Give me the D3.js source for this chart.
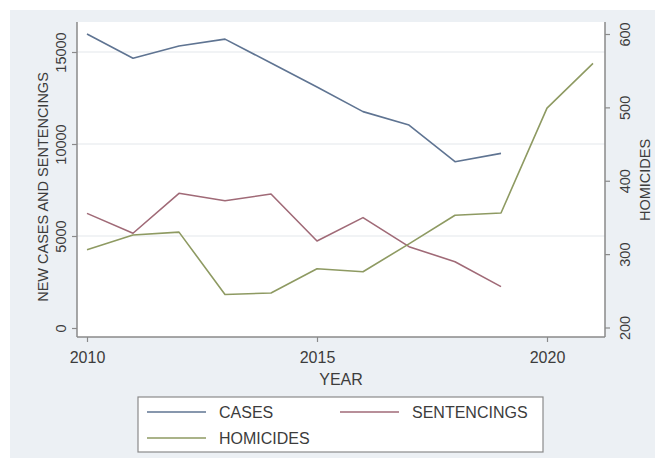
<!DOCTYPE html>
<html><head><meta charset="utf-8">
<script src="https://cdn.jsdelivr.net/npm/d3@7"></script>
<style>
html,body{margin:0;padding:0;background:#fff;}
svg{display:block;font-family:"Liberation Sans",Arial,sans-serif;}
</style></head>
<body>
<svg id="chart" width="655" height="458"></svg>
<script>
const years = [2010,2011,2012,2013,2014,2015,2016,2017,2018,2019];
const homicideYears = [2010,2011,2012,2013,2014,2015,2016,2017,2018,2019,2020,2021];
const cases = [15980,14660,15330,15700,14400,13100,11760,11030,9040,9490];
const sentencings = [6230,5150,7320,6920,7280,4730,6000,4420,3600,2250];
const homicides = [306,326,330,245,247,280,276,314,353,356,499,560];
const xTicks = [2010,2015,2020];
const leftTicks = [0,5000,10000,15000];
const rightTicks = [200,300,400,500,600];
const seriesNames = ["CASES","SENTENCINGS","HOMICIDES"];
const colors = {CASES:"#5f7492", SENTENCINGS:"#a06a77", HOMICIDES:"#8e9a62"};

const svg = d3.select("#chart");
const textColor = "#3c3c3c";
const axisColor = "#8a8a8a";

// background
svg.append("rect").attr("x",10).attr("y",10).attr("width",645).attr("height",448).attr("fill","#ecf0f4");
const plot = {l:77, r:605, t:22, b:337};
svg.append("rect").attr("x",plot.l).attr("y",plot.t).attr("width",plot.r-plot.l).attr("height",plot.b-plot.t).attr("fill","#ffffff");

const x = d3.scaleLinear().domain([2010,2020]).range([87,547]);
const yL = d3.scaleLinear().domain([0,15000]).range([328,52]);
const yR = d3.scaleLinear().domain([200,600]).range([327.5,34]);

// grid
svg.append("g").selectAll("line").data(leftTicks.filter(d=>d>0)).join("line")
  .attr("x1",plot.l).attr("x2",plot.r).attr("y1",d=>yL(d)).attr("y2",d=>yL(d))
  .attr("stroke","#eceff2").attr("stroke-width",1.5);

// axes
const gL = svg.append("g").attr("transform",`translate(${plot.l},0)`)
  .call(d3.axisLeft(yL).tickValues(leftTicks).tickSize(5).tickFormat(d3.format("d")));
const gR = svg.append("g").attr("transform",`translate(${plot.r},0)`)
  .call(d3.axisRight(yR).tickValues(rightTicks).tickSize(5).tickFormat(d3.format("d")));
const gB = svg.append("g").attr("transform",`translate(0,${plot.b})`)
  .call(d3.axisBottom(x).tickValues(xTicks).tickSize(5).tickFormat(d3.format("d")));
[gL,gR,gB].forEach(g=>{
  g.select(".domain").remove();
  g.selectAll(".tick line").attr("stroke",axisColor).attr("stroke-width",1.2);
  g.selectAll(".tick text").attr("fill",textColor).attr("font-family","Liberation Sans, Arial, sans-serif");
});
// axis lines
svg.append("line").attr("x1",plot.l).attr("x2",plot.l).attr("y1",plot.t).attr("y2",plot.b).attr("stroke",axisColor).attr("stroke-width",1.5);
svg.append("line").attr("x1",plot.r).attr("x2",plot.r).attr("y1",plot.t).attr("y2",plot.b).attr("stroke",axisColor).attr("stroke-width",1.5);
svg.append("line").attr("x1",plot.l).attr("x2",plot.r).attr("y1",plot.b).attr("y2",plot.b).attr("stroke",axisColor).attr("stroke-width",1.5);

// rotated tick labels
gL.selectAll(".tick text").attr("x",null).attr("dy",null)
  .attr("transform","translate(-11,0) rotate(-90)").attr("text-anchor","middle").attr("font-size",14.5);
gR.selectAll(".tick text").attr("x",null).attr("dy",null)
  .attr("transform","translate(25,0) rotate(-90)").attr("text-anchor","middle").attr("font-size",14.5);
gB.selectAll(".tick text").attr("y",null).attr("dy",null)
  .attr("transform","translate(0,26)").attr("font-size",16);

// axis titles
svg.append("text").attr("transform","translate(48,187) rotate(-90)").attr("text-anchor","middle")
  .attr("font-size",14.5).attr("fill",textColor).text("NEW CASES AND SENTENCINGS");
svg.append("text").attr("transform","translate(650,180) rotate(-90)").attr("text-anchor","middle")
  .attr("font-size",14.5).attr("fill",textColor).text("HOMICIDES");
svg.append("text").attr("x",341).attr("y",385).attr("text-anchor","middle")
  .attr("font-size",16).attr("fill",textColor).text("YEAR");

// lines
const lineL = d3.line().x(d=>x(d[0])).y(d=>yL(d[1]));
const lineR = d3.line().x(d=>x(d[0])).y(d=>yR(d[1]));
svg.append("path").datum(d3.zip(years,cases)).attr("d",lineL).attr("fill","none")
  .attr("stroke",colors.CASES).attr("stroke-width",1.6).attr("stroke-linejoin","round");
svg.append("path").datum(d3.zip(years,sentencings)).attr("d",lineL).attr("fill","none")
  .attr("stroke",colors.SENTENCINGS).attr("stroke-width",1.6).attr("stroke-linejoin","round");
svg.append("path").datum(d3.zip(homicideYears,homicides)).attr("d",lineR).attr("fill","none")
  .attr("stroke",colors.HOMICIDES).attr("stroke-width",1.6).attr("stroke-linejoin","round");

// legend
const lg = svg.append("g");
lg.append("rect").attr("x",138).attr("y",397).attr("width",405).attr("height",55)
  .attr("fill","#fff").attr("stroke","#8a8a8a").attr("stroke-width",1.2);
const legendPos = [{x:147,y:412},{x:340,y:412},{x:147,y:438}];
seriesNames.forEach((n,i)=>{
  const p = legendPos[i];
  lg.append("line").attr("x1",p.x).attr("x2",p.x+59).attr("y1",p.y).attr("y2",p.y)
    .attr("stroke",colors[n]).attr("stroke-width",1.6);
  lg.append("text").attr("x",p.x+72).attr("y",p.y+6).attr("font-size",16)
    .attr("fill",textColor).text(n);
});
</script>
</body></html>
